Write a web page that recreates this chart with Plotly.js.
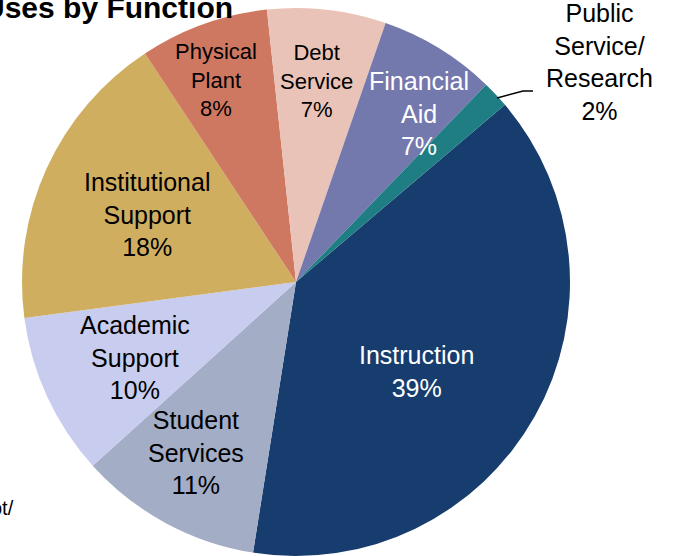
<!DOCTYPE html>
<html><head><meta charset="utf-8">
<script src="https://cdn.plot.ly/plotly-3.0.1.min.js"></script>
<style>html,body{margin:0;padding:0;overflow:hidden;background:#fff}#chart{width:674px;height:560px}</style>
</head><body><div id="chart"></div>
<script>
// Data (clockwise from the Instruction slice)
const categories = ['Instruction','Student Services','Academic Support','Institutional Support','Physical Plant','Debt Service','Financial Aid','Public Service/Research'];
const labelLines = ['Instruction','Student<br>Services','Academic<br>Support','Institutional<br>Support','Physical<br>Plant','Debt<br>Service','Financial<br>Aid','Public<br>Service/<br>Research'];
const shares = [38.7, 10.8, 9.6, 17.8, 7.6, 7.0, 6.9, 1.6];

// Styles / layout
const sliceColors = ['#173D6E','#A3ADC6','#C8CCEE','#D0AE60','#CF7861','#EAC3B8','#7378AD','#1E7E83'];
const textColors = ['#ffffff','#000000','#000000','#000000','#000000','#000000','#ffffff','#000000'];
const labelSizes = [25,25,25,25,22,22,25,25];
const labelPx = [[416,371],[196,452],[135,357],[147,214],[216,80],[316,81],[419,114],[599,62]];

const W = 674, H = 560;
const px = x => x / W;
const py = y => 1 - y / H;

const total = shares.reduce((a,b)=>a+b,0);
const pctText = shares.map(v => Math.round(v / total * 100) + '%');

const trace = {
  type: 'pie',
  labels: categories,
  values: shares,
  sort: false,
  direction: 'clockwise',
  rotation: 49.7,
  textinfo: 'none',
  hoverinfo: 'skip',
  showlegend: false,
  marker: {colors: sliceColors, line: {width: 0}},
  domain: {x: [px(22), px(570)], y: [py(556), py(8)]}
};

const annotations = categories.map((c, i) => ({
  xref: 'paper', yref: 'paper',
  x: px(labelPx[i][0]), y: py(labelPx[i][1]),
  xanchor: 'center', yanchor: 'middle',
  text: labelLines[i] + '<br>' + pctText[i],
  showarrow: false,
  font: {family: 'Liberation Sans, Arial, sans-serif', size: labelSizes[i], color: textColors[i]}
}));

annotations.push({
  xref: 'paper', yref: 'paper', x: px(-19), y: py(8),
  xanchor: 'left', yanchor: 'middle', showarrow: false,
  text: '<b>Uses by Function</b>',
  font: {family: 'Liberation Sans, Arial, sans-serif', size: 30, color: '#000'}
});
annotations.push({
  xref: 'paper', yref: 'paper', x: px(16), y: py(508),
  xanchor: 'right', yanchor: 'middle', showarrow: false,
  text: 'ot/',
  font: {family: 'Liberation Sans, Arial, sans-serif', size: 20, color: '#000'}
});

const layout = {
  width: W, height: H,
  margin: {l: 0, r: 0, t: 0, b: 0, pad: 0},
  paper_bgcolor: '#ffffff',
  showlegend: false,
  annotations: annotations,
  shapes: [{
    type: 'path', xref: 'paper', yref: 'paper',
    path: `M ${px(497)} ${py(98)} L ${px(523)} ${py(91)} L ${px(533)} ${py(91)}`,
    line: {color: '#000', width: 1.5}
  }]
};

Plotly.newPlot('chart', [trace], layout, {staticPlot: true, displayModeBar: false});
</script>
</body></html>
